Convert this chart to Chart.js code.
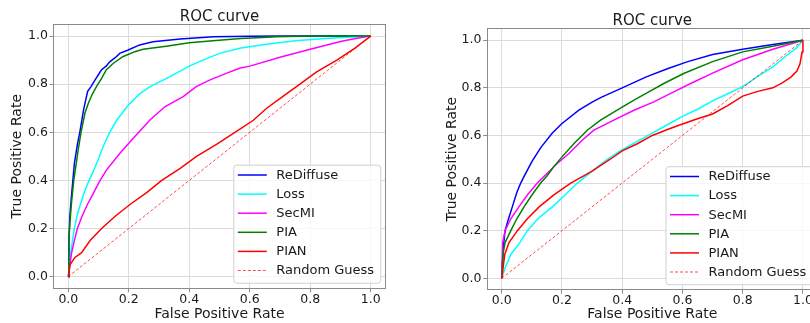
<!DOCTYPE html>
<html><head><meta charset="utf-8">
<script src="https://cdn.jsdelivr.net/npm/chart.js@4/dist/chart.umd.min.js"></script>
<style>
html,body{margin:0;padding:0;background:#fff;overflow:hidden;width:810px;height:323px;position:relative;}
#wrapL{position:absolute;left:0;top:0;width:400px;height:323px;}
#wrapR{position:absolute;left:400px;top:0;width:420px;height:323px;}
canvas{display:block;}
</style></head><body>
<div id="wrapL"><canvas id="cL" width="400" height="323"></canvas></div>
<div id="wrapR"><canvas id="cR" width="420" height="323"></canvas></div>
<script>
// ---------- text / categories ----------
const chartTitle = 'ROC curve';
const xTitle = 'False Positive Rate';
const yTitle = 'True Positive Rate';
const methods = ['ReDiffuse', 'Loss', 'SecMI', 'PIA', 'PIAN'];
const baselineLabel = 'Random Guess';
const tickValues = [0, 0.2, 0.4, 0.6, 0.8, 1.0];
const tickLabels = ['0.0', '0.2', '0.4', '0.6', '0.8', '1.0'];
const diagFpr = [0, 1];
const diagTpr = [0, 1];

// ---------- left panel ----------
const leftReDiffuseFpr = [0,0.002,0.005,0.01,0.02,0.03,0.038,0.05,0.055,0.064,0.075,0.088,0.1,0.11,0.125,0.137,0.155,0.17,0.198,0.236,0.28,0.37,0.48,0.6,0.7,1.0];
const leftReDiffuseTpr = [0,0.15,0.25,0.33,0.47,0.55,0.6,0.69,0.72,0.77,0.79,0.817,0.84,0.86,0.875,0.893,0.91,0.928,0.942,0.963,0.976,0.988,0.997,0.999,1.0,1.0];
const leftLossFpr = [0,0.005,0.01,0.02,0.03,0.04,0.05,0.065,0.08,0.1,0.115,0.137,0.16,0.2,0.236,0.27,0.335,0.4,0.445,0.5,0.566,0.65,0.75,0.85,1.0];
const leftLossTpr = [0,0.07,0.12,0.2,0.26,0.3,0.34,0.39,0.43,0.49,0.54,0.6,0.65,0.715,0.76,0.79,0.83,0.875,0.9,0.928,0.949,0.965,0.98,0.99,1.0];
const leftSecMIFpr = [0,0.005,0.011,0.02,0.03,0.045,0.063,0.08,0.105,0.126,0.17,0.22,0.27,0.319,0.38,0.423,0.467,0.522,0.566,0.6,0.7,0.8,0.9,0.95,1.0];
const leftSecMITpr = [0,0.05,0.1,0.15,0.2,0.25,0.3,0.34,0.4,0.443,0.512,0.582,0.651,0.706,0.748,0.79,0.817,0.845,0.866,0.875,0.912,0.945,0.977,0.99,1.0];
const leftPIAFpr = [0,0.002,0.005,0.01,0.018,0.025,0.033,0.042,0.055,0.066,0.08,0.093,0.11,0.126,0.148,0.18,0.22,0.247,0.324,0.4,0.478,0.57,0.69,0.8,1.0];
const leftPIATpr = [0,0.15,0.22,0.3,0.4,0.46,0.53,0.6,0.68,0.72,0.76,0.79,0.824,0.86,0.886,0.914,0.935,0.945,0.958,0.972,0.98,0.99,0.997,1.0,1.0];
const leftPIANFpr = [0,0.006,0.022,0.044,0.072,0.11,0.154,0.204,0.26,0.309,0.37,0.424,0.49,0.551,0.612,0.656,0.711,0.766,0.82,0.888,0.948,1.0];
const leftPIANTpr = [0,0.05,0.08,0.1,0.15,0.2,0.25,0.3,0.35,0.4,0.45,0.5,0.55,0.6,0.65,0.7,0.75,0.8,0.85,0.9,0.95,1.0];

// ---------- right panel ----------
const rightReDiffuseFpr = [0,0.005,0.011,0.02,0.035,0.05,0.063,0.075,0.1,0.13,0.168,0.2,0.256,0.3,0.33,0.4,0.48,0.55,0.615,0.7,0.8,0.9,1.0];
const rightReDiffuseTpr = [0,0.13,0.2,0.24,0.3,0.36,0.4,0.43,0.49,0.55,0.61,0.65,0.706,0.74,0.76,0.8,0.846,0.88,0.909,0.94,0.962,0.982,1.0];
const rightLossFpr = [0,0.01,0.03,0.06,0.085,0.12,0.168,0.21,0.251,0.3,0.35,0.4,0.45,0.5,0.55,0.6,0.65,0.7,0.75,0.8,0.85,0.9,0.95,0.98,1.0];
const rightLossTpr = [0,0.04,0.1,0.15,0.2,0.25,0.3,0.35,0.4,0.45,0.5,0.54,0.575,0.61,0.645,0.68,0.71,0.745,0.775,0.805,0.848,0.888,0.94,0.97,1.0];
const rightSecMIFpr = [0,0.003,0.011,0.03,0.057,0.085,0.118,0.15,0.185,0.223,0.267,0.306,0.372,0.439,0.505,0.571,0.627,0.7,0.8,0.9,1.0];
const rightSecMITpr = [0,0.15,0.2,0.25,0.3,0.35,0.4,0.44,0.483,0.524,0.58,0.622,0.664,0.706,0.741,0.783,0.818,0.862,0.918,0.962,1.0];
const rightPIAFpr = [0,0.004,0.011,0.03,0.05,0.074,0.1,0.129,0.15,0.173,0.2,0.24,0.284,0.328,0.383,0.439,0.488,0.538,0.604,0.7,0.8,0.9,1.0];
const rightPIATpr = [0,0.1,0.15,0.2,0.25,0.3,0.35,0.4,0.43,0.469,0.51,0.566,0.622,0.664,0.706,0.748,0.783,0.818,0.86,0.91,0.951,0.975,1.0];
const rightPIANFpr = [0,0.01,0.024,0.052,0.085,0.124,0.173,0.229,0.3,0.36,0.4,0.45,0.5,0.55,0.6,0.65,0.7,0.75,0.8,0.85,0.9,0.93,0.96,0.98,0.99,0.997,1.0];
const rightPIANTpr = [0,0.1,0.15,0.2,0.25,0.3,0.35,0.4,0.45,0.5,0.535,0.565,0.6,0.625,0.648,0.67,0.69,0.725,0.765,0.785,0.8,0.82,0.845,0.87,0.9,0.95,1.0];

// ---------- styles ----------
const FONT = '"DejaVu Sans", sans-serif';
const textColor = '#1a1a1a';
const gridColor = '#dcdcdc';
const spineColor = '#8a8a8a';
const methodColors = ['#0000ff', '#00ffff', '#ff00ff', '#008000', '#ff0000'];

function pts(xs, ys) { return xs.map((x, i) => ({x: x, y: ys[i]})); }

function buildDatasets(series) {
  const ds = series.map((s, i) => ({
    label: methods[i], data: pts(s[0], s[1]),
    borderColor: methodColors[i], backgroundColor: methodColors[i],
    borderWidth: 1.5, borderDash: [], order: 10 - i
  }));
  ds.push({
    label: baselineLabel, data: pts(diagFpr, diagTpr),
    borderColor: 'rgba(255,0,0,0.7)', backgroundColor: 'rgba(255,0,0,0.7)',
    borderWidth: 1, borderDash: [3, 2], order: 1
  });
  return ds;
}

const decorPlugin = {
  id: 'decor',
  afterDraw(chart, args, o) {
    const ctx = chart.ctx, a = chart.chartArea;
    ctx.save();
    // frame
    ctx.strokeStyle = spineColor; ctx.lineWidth = 1; ctx.setLineDash([]);
    ctx.strokeRect(Math.round(a.left) + 0.5, Math.round(a.top) + 0.5,
                   Math.round(a.right - a.left) - 1, Math.round(a.bottom - a.top) - 1);
    // title
    ctx.fillStyle = textColor;
    ctx.font = '15px ' + FONT;
    ctx.textAlign = 'center'; ctx.textBaseline = 'alphabetic';
    ctx.fillText(chartTitle, (a.left + a.right) / 2, a.top - 3.4);
    // legend
    const W = 147, H = 118;
    const lx = a.right - 5.5 - W, ly = a.bottom - 6 - H;
    ctx.beginPath();
    if (ctx.roundRect) ctx.roundRect(lx + 0.5, ly + 0.5, W, H, 3); else ctx.rect(lx + 0.5, ly + 0.5, W, H);
    ctx.fillStyle = 'rgba(255,255,255,0.8)'; ctx.fill();
    ctx.strokeStyle = '#d0d0d0'; ctx.lineWidth = 1; ctx.stroke();
    ctx.font = '13px ' + FONT; ctx.textAlign = 'left'; ctx.textBaseline = 'middle';
    chart.data.datasets.forEach((d, i) => {
      const y = ly + 10.3 + i * 19.1;
      ctx.beginPath();
      ctx.setLineDash(d.borderDash || []);
      ctx.strokeStyle = d.borderColor; ctx.lineWidth = d.borderWidth;
      ctx.moveTo(lx + 4.5, y); ctx.lineTo(lx + 33.5, y); ctx.stroke();
      ctx.setLineDash([]);
      ctx.fillStyle = textColor;
      ctx.fillText(d.label, lx + 43, y + 0.5);
    });
    ctx.restore();
  }
};

function makeChart(id, series, L) {
  const setTicks = s => { s.ticks = tickValues.map(v => ({value: v})); };
  return new Chart(document.getElementById(id), {
    type: 'scatter',
    data: {datasets: buildDatasets(series)},
    options: {
      responsive: false, animation: false, devicePixelRatio: 1,
      showLine: true,
      elements: {point: {radius: 0, hoverRadius: 0}, line: {tension: 0, fill: false}},
      layout: {padding: {left: 0, right: L.padRight, top: L.top, bottom: 0}},
      plugins: {legend: {display: false}, title: {display: false}, tooltip: {enabled: false}},
      scales: {
        x: {
          type: 'linear', min: -0.05, max: 1.05,
          afterBuildTicks: setTicks,
          afterFit: s => { s.height = L.xHeight; },
          border: {display: false},
          grid: {color: gridColor, lineWidth: 1, drawTicks: true, tickLength: 3.5, tickColor: spineColor, tickWidth: 1},
          ticks: {padding: 0, autoSkip: false, maxRotation: 0, color: textColor,
                  font: {family: FONT, size: 12.5, lineHeight: 1.2},
                  callback: (v) => tickLabels[tickValues.indexOf(v)]},
          title: {display: true, text: xTitle, color: textColor,
                  font: {family: FONT, size: 14, lineHeight: 1.2}, padding: {top: 0, bottom: 0.3}}
        },
        y: {
          type: 'linear', min: -0.05, max: 1.05,
          afterBuildTicks: setTicks,
          afterFit: s => { s.width = L.yWidth; },
          border: {display: false},
          grid: {color: gridColor, lineWidth: 1, drawTicks: true, tickLength: 3.5, tickColor: spineColor, tickWidth: 1},
          ticks: {padding: 1.8, autoSkip: false, color: textColor,
                  font: {family: FONT, size: 12.5, lineHeight: 1.2},
                  callback: (v) => tickLabels[tickValues.indexOf(v)]},
          title: {display: true, text: yTitle, color: textColor,
                  font: {family: FONT, size: 14, lineHeight: 1.2}, padding: {top: L.yTitlePad, bottom: 0}}
        }
      }
    },
    plugins: [decorPlugin]
  });
}

makeChart('cL', [
  [leftReDiffuseFpr, leftReDiffuseTpr],
  [leftLossFpr, leftLossTpr],
  [leftSecMIFpr, leftSecMITpr],
  [leftPIAFpr, leftPIATpr],
  [leftPIANFpr, leftPIANTpr]
], {padRight: 14.2, top: 24, xHeight: 34.3, yWidth: 53.2, yTitlePad: 9.4});

makeChart('cR', [
  [rightReDiffuseFpr, rightReDiffuseTpr],
  [rightLossFpr, rightLossTpr],
  [rightSecMIFpr, rightSecMITpr],
  [rightPIAFpr, rightPIATpr],
  [rightPIANFpr, rightPIANTpr]
], {padRight: 2, top: 28.3, xHeight: 32.8, yWidth: 86.7, yTitlePad: 43.6});
</script>
</body></html>
